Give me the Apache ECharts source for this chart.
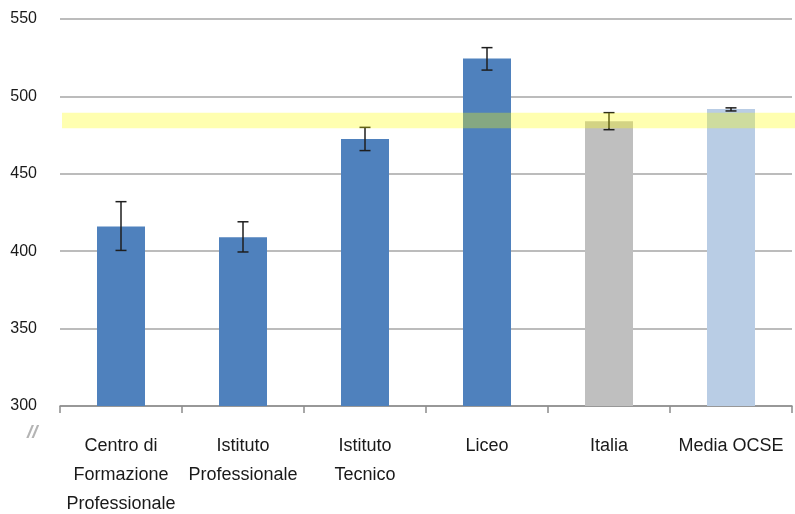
<!DOCTYPE html>
<html>
<head>
<meta charset="utf-8">
<script src="https://cdn.jsdelivr.net/npm/echarts@6/dist/echarts.min.js"></script>
<style>
html,body{margin:0;padding:0;background:#fff;}
#chart{width:795px;height:514px;}
</style>
</head>
<body>
<div id="chart"></div>
<script>
var categories = ['Centro di\nFormazione\nProfessionale', 'Istituto\nProfessionale', 'Istituto\nTecnico', 'Liceo', 'Italia', 'Media OCSE'];
var scores = [416, 409, 472.5, 524.5, 484, 491.8];
var errLow = [400.5, 399.5, 465, 517, 478.5, 490.6];
var errHigh = [432, 419, 480, 531.5, 489.5, 492.6];
var barColors = ['#4F81BD', '#4F81BD', '#4F81BD', '#4F81BD', '#BFBFBF', '#B9CDE5'];
var bandRange = [479.5, 489.5];
var yTicks = [300, 350, 400, 450, 500, 550];

var FONT = '"Liberation Sans", Arial, sans-serif';
var chart = echarts.init(document.getElementById('chart'));

var option = {
  animation: false,
  backgroundColor: '#ffffff',
  grid: {left: 60, right: 3, top: 19, bottom: 108, containLabel: false, outerBoundsMode: 'none'},
  xAxis: {
    type: 'category',
    data: categories,
    boundaryGap: true,
    axisLine: {show: true, lineStyle: {color: '#8c8c8c', width: 1.5}},
    axisTick: {show: true, length: 7, alignWithLabel: false, lineStyle: {color: '#8c8c8c', width: 1.5}},
    axisLabel: {
      interval: 0, margin: 26, color: '#1a1a1a',
      fontFamily: FONT, fontSize: 18, lineHeight: 29
    },
    splitLine: {show: false}
  },
  yAxis: {
    type: 'value',
    min: yTicks[0], max: yTicks[yTicks.length - 1], interval: 50,
    axisLine: {show: false},
    axisTick: {show: false},
    axisLabel: {margin: 23, color: '#1a1a1a', fontFamily: FONT, fontSize: 16},
    splitLine: {show: true, lineStyle: {color: '#a6a6a6', width: 1.5}}
  },
  series: [
    {
      type: 'bar',
      barWidth: 48,
      z: 2,
      data: scores.map(function (v, i) {
        return {value: v, itemStyle: {color: barColors[i]}};
      })
    },
    {
      type: 'custom',
      z: 6,
      silent: true,
      data: [[0, bandRange[0], bandRange[1]]],
      renderItem: function (params, api) {
        var lo = api.coord([0, api.value(1)]);
        var hi = api.coord([0, api.value(2)]);
        var cs = params.coordSys;
        return {
          type: 'rect',
          shape: {x: cs.x + 2, y: hi[1], width: cs.width + 1, height: lo[1] - hi[1]},
          style: {fill: 'rgba(255,255,0,0.31)'}
        };
      }
    },
    {
      type: 'custom',
      z: 5,
      data: errLow.map(function (lo, i) { return [i, lo, errHigh[i]]; }),
      renderItem: function (params, api) {
        var lo = api.coord([api.value(0), api.value(1)]);
        var hi = api.coord([api.value(0), api.value(2)]);
        var hw = 5.5;
        var st = {stroke: '#1e1e1e', lineWidth: 1.5};
        return {
          type: 'group',
          children: [
            {type: 'line', shape: {x1: hi[0], y1: hi[1], x2: lo[0], y2: lo[1]}, style: st},
            {type: 'line', shape: {x1: hi[0] - hw, y1: hi[1], x2: hi[0] + hw, y2: hi[1]}, style: st},
            {type: 'line', shape: {x1: lo[0] - hw, y1: lo[1], x2: lo[0] + hw, y2: lo[1]}, style: st}
          ]
        };
      }
    }
  ],
  graphic: [
    {
      type: 'text', left: 27, top: 423,
      style: {text: '//', fill: '#b4b4b4', font: 'italic bold 19px "Liberation Sans", sans-serif'}
    }
  ]
};
chart.setOption(option);
</script>
</body>
</html>
